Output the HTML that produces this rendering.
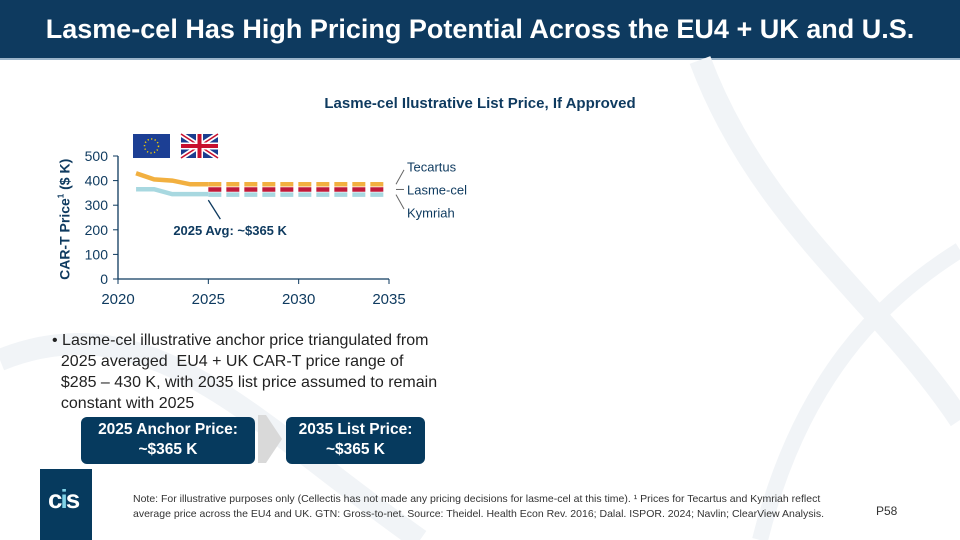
<!DOCTYPE html>
<html><head><meta charset="utf-8">
<style>
body{margin:0;width:960px;height:540px;overflow:hidden;background:#fff;font-family:"Liberation Sans",Arial,sans-serif;position:relative}
.hdr{position:absolute;left:0;top:0;width:960px;height:58px;background:#0e3a5f;color:#fff;font-weight:bold;font-size:27px;text-align:center;line-height:58px;border-bottom:2px solid #9bb4c9}
.box{position:absolute;top:417px;height:44px;background:#063a5e;color:#fff;font-weight:bold;font-size:15.5px;text-align:center;line-height:20px;border-radius:6px;padding-top:3px}
</style></head><body>
<div class="hdr">Lasme-cel Has High Pricing Potential Across the EU4 + UK and U.S.</div>
<svg width="960" height="540" style="position:absolute;left:0;top:0">
<path d="M0 360 C150 300 250 420 420 540" stroke="#f1f4f7" stroke-width="22" fill="none"/>
<path d="M700 60 C760 220 880 300 960 420" stroke="#f1f4f7" stroke-width="22" fill="none"/>
<path d="M760 540 C800 380 880 300 960 250" stroke="#f1f4f7" stroke-width="16" fill="none"/>
</svg>
<div style="position:absolute;left:0;top:95px;width:960px;text-align:center;font-weight:bold;font-size:15px;color:#0e3a5f">Lasme-cel Ilustrative List Price, If Approved</div>
<svg id="chart" width="960" height="540" style="position:absolute;left:0;top:0">
<g><rect x="133" y="134" width="37" height="24" fill="#1c3f94"/><circle cx="151.5" cy="146" r="7" fill="none" stroke="#f5d000" stroke-width="1.5" stroke-dasharray="1.2 2.4"/></g>
<g><rect x="181" y="134" width="37" height="24" fill="#1b3d8f"/><path d="M181 134L218 158M218 134L181 158" stroke="#fff" stroke-width="5"/><path d="M181 134L218 158M218 134L181 158" stroke="#c8102e" stroke-width="1.6"/><path d="M199.5 134V158M181 146H218" stroke="#fff" stroke-width="7"/><path d="M199.5 134V158M181 146H218" stroke="#c8102e" stroke-width="4"/></g>
</svg>
<div style="position:absolute;left:-37px;top:210px;width:200px;transform:rotate(-90deg);transform-origin:center;text-align:center;font-weight:bold;font-size:14px;color:#0e3a5f;line-height:16px">CAR-T Price<sup style="font-size:8px">1</sup> ($ K)</div>
<div style="position:absolute;left:52px;top:330px;width:400px;font-size:16px;line-height:21px;color:#222">• Lasme-cel illustrative anchor price triangulated from<br>&nbsp;&nbsp;2025 averaged&nbsp; EU4 + UK CAR-T price range of<br>&nbsp;&nbsp;$285 – 430 K, with 2035 list price assumed to remain<br>&nbsp;&nbsp;constant with 2025</div>
<div class="box" style="left:81px;width:174px">2025 Anchor Price:<br>~$365 K</div>
<svg width="30" height="48" style="position:absolute;left:258px;top:415px"><path d="M0 0H8L24 24L8 48H0Z" fill="#d9d9d9"/></svg>
<div class="box" style="left:286px;width:139px">2035 List Price:<br>~$365 K</div>
<div style="position:absolute;left:40px;top:469px;width:52px;height:71px;background:#063a5e"><div style="color:#fff;font-weight:bold;font-size:26px;position:absolute;left:8px;top:15px;letter-spacing:-2px">c<span style="color:#7fd3e8">i</span>s</div></div>
<div style="position:absolute;left:133px;top:492px;width:720px;font-size:10.5px;line-height:15px;color:#333">Note: For illustrative purposes only (Cellectis has not made any pricing decisions for lasme-cel at this time). ¹ Prices for Tecartus and Kymriah reflect average price across the EU4 and UK. GTN: Gross-to-net. Source: Theidel. Health Econ Rev. 2016; Dalal. ISPOR. 2024; Navlin; ClearView Analysis.</div>
<div style="position:absolute;left:876px;top:504px;font-size:12px;color:#333">P58</div>
<script>
const xTicks=[2020,2025,2030,2035];
const yTicks=[0,100,200,300,400,500];
const tecYears=[2021,2022,2023,2024,2025];
const tecVals=[430,405,400,385,385];
const kymYears=[2021,2022,2023,2024,2025];
const kymVals=[365,365,345,345,345];
const projYears=[2025,2034.7];
const tecProj=[385,385];
const lasProj=[364,364];
const kymProj=[343,343];
const NS="http://www.w3.org/2000/svg";
const svg=document.getElementById('chart');
const X=y=>118+(y-2020)*(389-118)/15;
const Y=v=>279-v*(279-156)/500;
function mk(t,a){const e=document.createElementNS(NS,t);for(const k in a)e.setAttribute(k,a[k]);svg.appendChild(e);return e;}
let ax=mk('path',{d:`M${X(2020)} ${Y(500)}V${Y(0)}H${X(2035)}`,stroke:'#0e3a5f','stroke-width':1.3,fill:'none'});


yTicks.forEach(v=>{
 mk('line',{x1:X(2020)-5,x2:X(2020),y1:Y(v),y2:Y(v),stroke:'#0e3a5f'});
 const t=mk('text',{x:X(2020)-10,y:Y(v)+5,'text-anchor':'end','font-size':14,fill:'#0e3a5f'});t.textContent=v;
 
 
});
xTicks.forEach(v=>{
 mk('line',{x1:X(v),x2:X(v),y1:Y(0),y2:Y(0)+5,stroke:'#0e3a5f'});
 const t=mk('text',{x:X(v),y:Y(0)+25,'text-anchor':'middle','font-size':15,fill:'#0e3a5f'});t.textContent=v;
 
 
});
function line(xs,vs,col,dash,name){
 const p=mk('polyline',{points:xs.map((x,i)=>X(x)+','+Y(vs[i])).join(' '),stroke:col,'stroke-width':4.5,fill:'none','stroke-dasharray':dash||'none'});
 
 
}
line(kymYears,kymVals,'#a8d8e0',null,'kymriah-line');
line(tecYears,tecVals,'#f2b040',null,'tecartus-line');
line(projYears,kymProj,'#a8d8e0','13 5','kymriah-projection');
line(projYears,tecProj,'#f2b040','13 5','tecartus-projection');
line(projYears,lasProj,'#c01a3a','13 5','lasme-cel-projection');
const lx=X(2035)+10;
[['Tecartus',tecProj[1],-18],['Lasme-cel',lasProj[1],0],['Kymriah',kymProj[1],18]].forEach(([n,v,o])=>{
 mk('line',{x1:lx-3,y1:Y(v),x2:lx+5,y2:Y(v)+o*0.8,stroke:'#666'});
 const t=mk('text',{x:lx+8,y:Y(v)+o+5,'font-size':13,fill:'#0e3a5f'});t.textContent=n;
 
 
});
mk('line',{x1:X(2025),y1:Y(345)+6,x2:X(2025)+12,y2:Y(345)+25,stroke:'#0e3a5f','stroke-width':1.3});
const ann=mk('text',{x:X(2025)-35,y:Y(200)+5,'font-size':13,'font-weight':'bold',fill:'#0e3a5f'});ann.textContent='2025 Avg: ~$365 K';


</script>
</body></html>
